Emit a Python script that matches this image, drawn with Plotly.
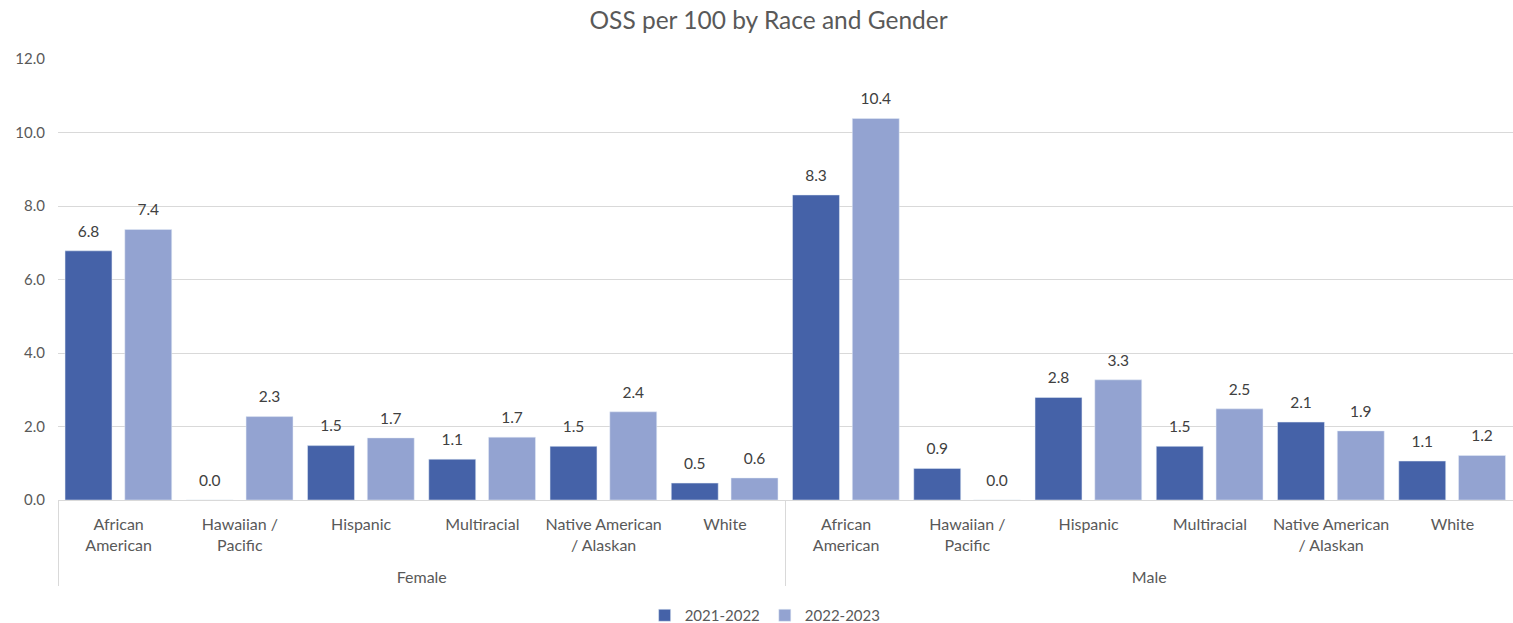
import plotly.graph_objects as go

genders = ["Female"] * 6 + ["Male"] * 6
races = ["African American", "Hawaiian / Pacific", "Hispanic", "Multiracial",
         "Native American / Alaskan", "White"] * 2
vals_2122 = [6.78, 0.0, 1.48, 1.11, 1.46, 0.46, 8.30, 0.86, 2.79, 1.46, 2.12, 1.06]
vals_2223 = [7.36, 2.27, 1.69, 1.71, 2.40, 0.60, 10.38, 0.0, 3.27, 2.48, 1.88, 1.21]
series_names = ["2021-2022", "2022-2023"]
colors = ["#4562A8", "#93A3D1"]

# display labels (line-broken like the original)
label_map = {
    "African American": "African<br>American<br> ",
    "Hawaiian / Pacific": "Hawaiian /<br>Pacific<br> ",
    "Native American / Alaskan": "Native American<br>/ Alaskan<br> ",
}
race_labels = [label_map.get(r, r) for r in races]

FONT = "Lato, Open Sans, sans-serif"
BAR_W = 0.387
offsets = [-0.442, 0.051]

fig = go.Figure()
for name, vals, col, off in zip(series_names, [vals_2122, vals_2223], colors, offsets):
    fig.add_trace(go.Bar(
        x=[genders, race_labels], y=vals, name=name, marker_color=col,
        width=BAR_W, offset=off, hoverinfo="y+name",
    ))
# value labels on a hidden numeric overlay axis
for name, vals, off in zip(series_names, [vals_2122, vals_2223], offsets):
    xs = [i + off + BAR_W / 2 for i in range(len(vals))]
    fig.add_trace(go.Scatter(
        x=xs, y=vals, xaxis="x2", mode="markers+text",
        marker=dict(size=15, opacity=0), text=[f"{v:.1f}" for v in vals],
        textposition="top center", showlegend=False, hoverinfo="skip",
        textfont=dict(size=15.5, color="#404040", family=FONT), cliponaxis=False,
    ))

fig.update_layout(
    barmode="overlay",
    width=1513, height=623,
    margin=dict(l=58, r=0, t=59, b=123, autoexpand=False),
    paper_bgcolor="white", plot_bgcolor="white",
    font=dict(family=FONT, color="#595959", size=16),
    title=dict(text="OSS per 100 by Race and Gender", x=0.508, xanchor="center",
               y=0.967, yanchor="middle", font=dict(size=24.5, color="#595959", family=FONT)),
    legend=dict(orientation="h", x=0.486, xanchor="center", y=-0.262, yanchor="middle",
                itemwidth=30, tracegroupgap=0,
                font=dict(size=15, color="#595959", family=FONT)),
    yaxis=dict(range=[0, 12], dtick=2, tickformat=".1f", gridcolor="#D9D9D9",
               zeroline=False, showline=False, ticks="", ticklabelstandoff=12,
               tickfont=dict(size=15, color="#595959")),
    xaxis=dict(type="multicategory", showline=True, linecolor="#D9D9D9",
               showdividers=True, dividercolor="#D9D9D9", dividerwidth=1,
               tickfont=dict(size=16, color="#595959"), automargin=False,
               tickangle=0, ticks="", ticklabelstandoff=10),
    xaxis2=dict(overlaying="x", range=[-0.5, 11.5], visible=False),
)
fig.write_html("out.html", config={"displayModeBar": False},
               post_script="document.body.style.margin='0';")
